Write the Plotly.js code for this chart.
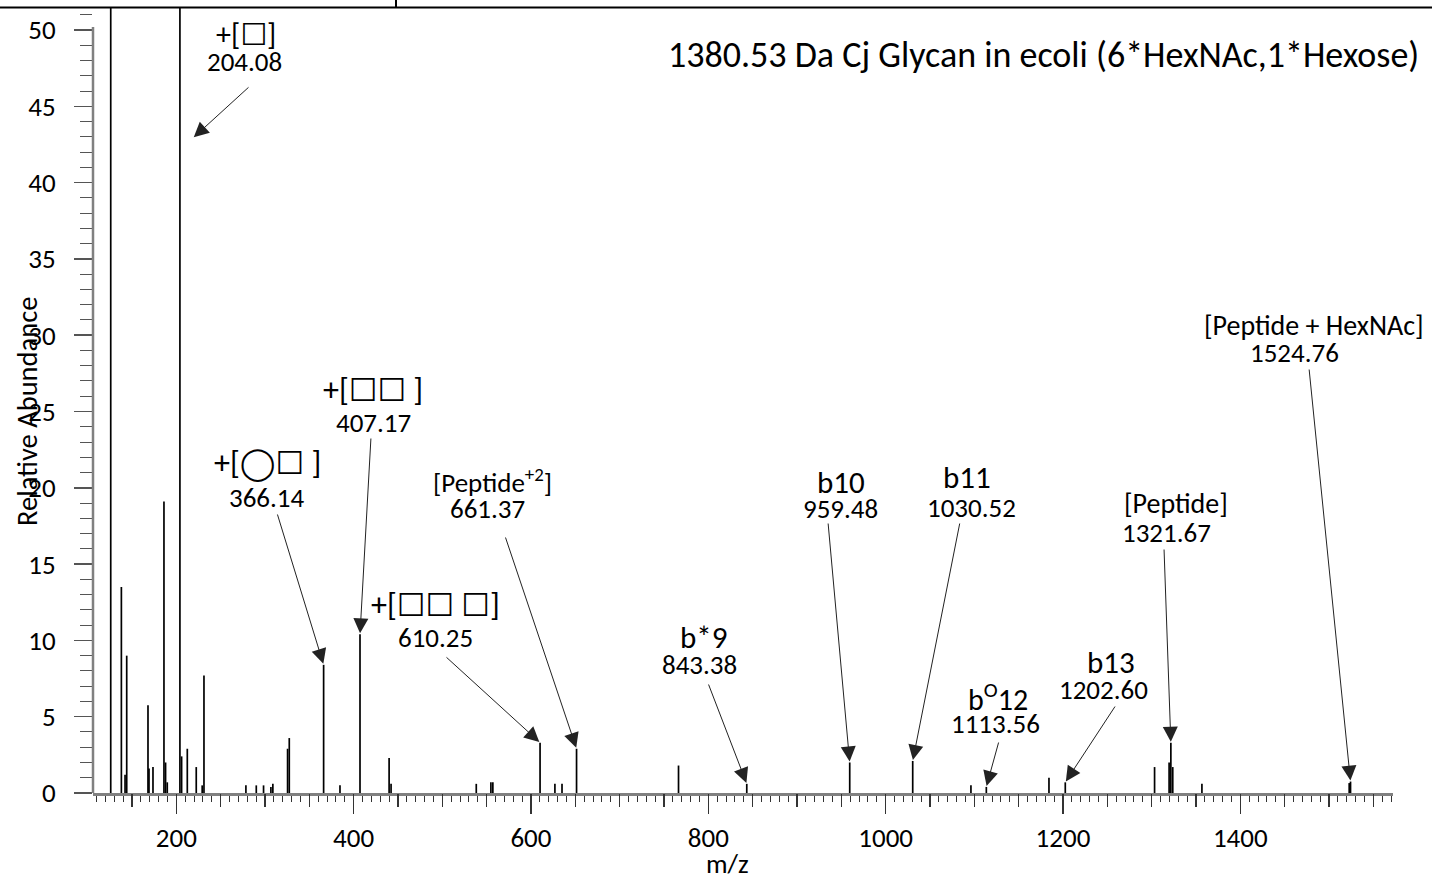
<!DOCTYPE html>
<html>
<head>
<meta charset="utf-8">
<script src="https://cdn.plot.ly/plotly-3.0.1.min.js"></script>
<style>html,body{margin:0;padding:0;background:#fff;}#chart{width:1432px;height:884px;}</style>
</head>
<body>
<div id="chart"></div>
<script>
// ---- spectrum data (m/z, relative abundance) ----
var mz = [126.05, 138.05, 142.2, 144.07, 168.07, 169.2, 173.7, 186.08, 187.9, 189.8,
          204.08, 206.0, 212.4, 222.5, 229.2, 231.2, 278.5, 290.2, 298.4, 306.7, 308.9,
          325.5, 327.4, 366.14, 384.6, 407.17, 440.0, 442.2, 538.3, 554.8, 557.0,
          610.25, 627.0, 635.0, 651.4, 766.4, 843.38, 959.48, 1030.52, 1096.2, 1113.56,
          1184.2, 1202.60, 1303.3, 1319.7, 1321.67, 1323.8, 1356.7, 1522.8, 1524.3];
var intensity = [70, 13.5, 1.2, 9.0, 5.75, 1.6, 1.7, 19.1, 2.0, 0.7,
          100, 2.4, 2.9, 1.7, 0.5, 7.7, 0.5, 0.5, 0.5, 0.4, 0.6,
          2.9, 3.6, 8.4, 0.5, 10.4, 2.3, 0.6, 0.6, 0.7, 0.7,
          3.3, 0.6, 0.6, 2.9, 1.8, 0.6, 2.0, 2.1, 0.5, 0.4,
          1.0, 0.7, 1.7, 2.0, 3.3, 1.7, 0.6, 0.65, 0.75];

// ---- annotated ions ----
var SQ = '<span style="font-family:DejaVu Sans">\u2610</span>';
var CI = '<span style="font-family:DejaVu Sans">\u25EF</span>';
var ionLabels  = ['+[' + SQ + ']', '+[' + CI + SQ + ' ]', '+[' + SQ + SQ + ' ]', '+[' + SQ + SQ + ' ' + SQ + ']', '[Peptide<sup>+2</sup>]',
                  'b*9', 'b10', 'b11', 'b<sup>O</sup>12', 'b13', '[Peptide]', '[Peptide + HexNAc]'];
var ionMasses  = ['204.08', '366.14', '407.17', '610.25', '661.37',
                  '843.38', '959.48', '1030.52', '1113.56', '1202.60', '1321.67', '1524.76'];
var ionPeakMz  = [204.08, 366.14, 407.17, 610.25, 651.4, 843.38, 959.48, 1030.52, 1113.56, 1202.60, 1321.67, 1524.3];

var xTickVals = [200, 400, 600, 800, 1000, 1200, 1400];
var yTickVals = [0, 5, 10, 15, 20, 25, 30, 35, 40, 45, 50];

var titleText = '1380.53 Da Cj Glycan in ecoli (6*HexNAc,1*Hexose)';

// ---- geometry ----
var ML = 93, MR = 39, MT = 8, MB = 91, W = 1432, H = 884;
var PW = W - ML - MR, PH = H - MT - MB;
var XR = [106.05, 1572.2];
var YR = [0, PH / 15.26];
function dataX(px) { return XR[0] + (px - ML) * (XR[1] - XR[0]) / PW; }
function dataY(py) { return (H - MB - py) * YR[1] / PH; }
function paperX(px) { return (px - ML) / PW; }
function paperY(py) { return (H - MB - py) / PH; }

// label placement (pixel centres of the two text lines, and arrow tail)
var labelPos = [
  {l1:[246, 35], l2:[244, 62], tail:[250, 86], head:[193, 138]},
  {l1:[267, 463], l2:[267, 497], tail:[277, 513]},
  {l1:[373, 390], l2:[373, 422], tail:[371, 437]},
  {l1:[435, 605], l2:[435, 637], tail:[445, 656]},
  {l1:[492, 481], l2:[488, 508], tail:[505, 536]},
  {l1:[703, 637], l2:[699, 664], tail:[708, 683]},
  {l1:[841, 482], l2:[840, 508], tail:[828, 522]},
  {l1:[967, 477], l2:[972, 507], tail:[960, 522]},
  {l1:[998, 697], l2:[995, 723], tail:[999, 741]},
  {l1:[1111, 662], l2:[1103, 689], tail:[1116, 705]},
  {l1:[1176, 503], l2:[1166, 532], tail:[1164, 548]},
  {l1:[1314, 325], l2:[1294, 352], tail:[1309, 368]}
];
var l1Size = [30, 32, 32, 32, 27, 31, 31, 31, 30, 31, 28, 28];

var FONT = "Carlito, Lato, 'DejaVu Sans', sans-serif";

// ---- build stick spectrum ----
var sx = [], sy = [];
for (var i = 0; i < mz.length; i++) {
  sx.push(mz[i], mz[i], null);
  sy.push(0, intensity[i], null);
}
function heightAt(m) {
  var best = 0, bd = 1e9;
  for (var i = 0; i < mz.length; i++) { var d = Math.abs(mz[i] - m); if (d < bd) { bd = d; best = intensity[i]; } }
  return best;
}

var traces = [
  {x: sx, y: sy, type: 'scatter', mode: 'lines', line: {color: '#000', width: 1.7},
   hoverinfo: 'skip', showlegend: false},
  {x: [null], y: [null], type: 'scatter', mode: 'lines', xaxis: 'x2', yaxis: 'y', showlegend: false, hoverinfo: 'skip'}
];

var annotations = [];
for (var k = 0; k < ionLabels.length; k++) {
  var p = labelPos[k];
  annotations.push({xref: 'paper', yref: 'paper', x: paperX(p.l1[0]), y: paperY(p.l1[1]),
    text: ionLabels[k], showarrow: false, xanchor: 'center', yanchor: 'middle',
    font: {family: FONT, size: l1Size[k], color: '#000'}});
  annotations.push({xref: 'paper', yref: 'paper', x: paperX(p.l2[0]), y: paperY(p.l2[1]),
    text: ionMasses[k], showarrow: false, xanchor: 'center', yanchor: 'middle',
    font: {family: FONT, size: 27, color: '#000'}});
  var hx, hy;
  if (p.head) { hx = dataX(p.head[0]); hy = dataY(p.head[1]); }
  else { hx = ionPeakMz[k]; hy = heightAt(ionPeakMz[k]); }
  annotations.push({xref: 'x', yref: 'y', x: hx, y: hy, axref: 'x', ayref: 'y',
    ax: dataX(p.tail[0]), ay: dataY(p.tail[1]), text: '', showarrow: true,
    arrowhead: 2, arrowsize: 3, arrowwidth: 1, arrowcolor: '#222', standoff: 1});
}
// title
annotations.push({xref: 'paper', yref: 'paper', x: paperX(1421), y: paperY(55), xanchor: 'right', yanchor: 'middle',
  text: titleText, showarrow: false, font: {family: FONT, size: 36, color: '#000'}});
// y-axis title
annotations.push({xref: 'paper', yref: 'paper', x: paperX(27), y: paperY(412), xanchor: 'center', yanchor: 'middle',
  text: 'Relative Abundance', textangle: -90, showarrow: false, font: {family: FONT, size: 28.5, color: '#000'}});
// x-axis title
annotations.push({xref: 'paper', yref: 'paper', x: paperX(727), y: paperY(863), xanchor: 'center', yanchor: 'middle',
  text: 'm/z', showarrow: false, font: {family: FONT, size: 27, color: '#000'}});

var shapes = [
  // y axis line (stops at 50)
  {type: 'line', xref: 'paper', yref: 'y', x0: 0, x1: 0, y0: 0, y1: 50.2, line: {color: '#808080', width: 2.5}},
  // top frame line
  {type: 'line', xref: 'paper', yref: 'paper', x0: paperX(0), x1: paperX(W), y0: paperY(7.5), y1: paperY(7.5), line: {color: '#000', width: 2}},
  {type: 'line', xref: 'paper', yref: 'paper', x0: paperX(396), x1: paperX(396), y0: paperY(7.5), y1: paperY(0), line: {color: '#000', width: 2}}
];

var layout = {
  width: W, height: H,
  margin: {l: ML, r: MR, t: MT, b: MB, pad: 0},
  paper_bgcolor: '#fff', plot_bgcolor: '#fff',
  showlegend: false,
  font: {family: FONT, color: '#000'},
  xaxis: {range: XR, showgrid: false, zeroline: false, showline: true, linecolor: '#808080', linewidth: 3,
    tickmode: 'array', tickvals: xTickVals, ticktext: xTickVals.map(String),
    ticks: 'outside', ticklen: 18, tickwidth: 1.5, tickcolor: '#333',
    minor: {dtick: 10, tick0: 0, ticks: 'outside', ticklen: 6, tickwidth: 1, tickcolor: '#333', showgrid: false},
    tickfont: {family: FONT, size: 27, color: '#000'}, ticklabelstandoff: 1, fixedrange: true},
  xaxis2: {range: XR, overlaying: 'x', anchor: 'y', side: 'bottom', showgrid: false, zeroline: false, showline: false,
    tickmode: 'linear', tick0: 0, dtick: 50, ticks: 'outside', ticklen: 13, tickwidth: 1.2, tickcolor: '#333',
    showticklabels: false, fixedrange: true},
  yaxis: {range: YR, showgrid: false, zeroline: false, showline: false,
    tickmode: 'array', tickvals: yTickVals, ticktext: yTickVals.map(String),
    ticks: 'outside', ticklen: 18, tickwidth: 1.5, tickcolor: '#555',
    minor: {dtick: 1, tick0: 0, ticks: 'outside', ticklen: 12, tickwidth: 1, tickcolor: '#555', showgrid: false},
    tickfont: {family: FONT, size: 27, color: '#000'}, ticklabelstandoff: 13, fixedrange: true},
  annotations: annotations,
  shapes: shapes
};

Plotly.newPlot('chart', traces, layout, {staticPlot: true, displayModeBar: false});
</script>
</body>
</html>
